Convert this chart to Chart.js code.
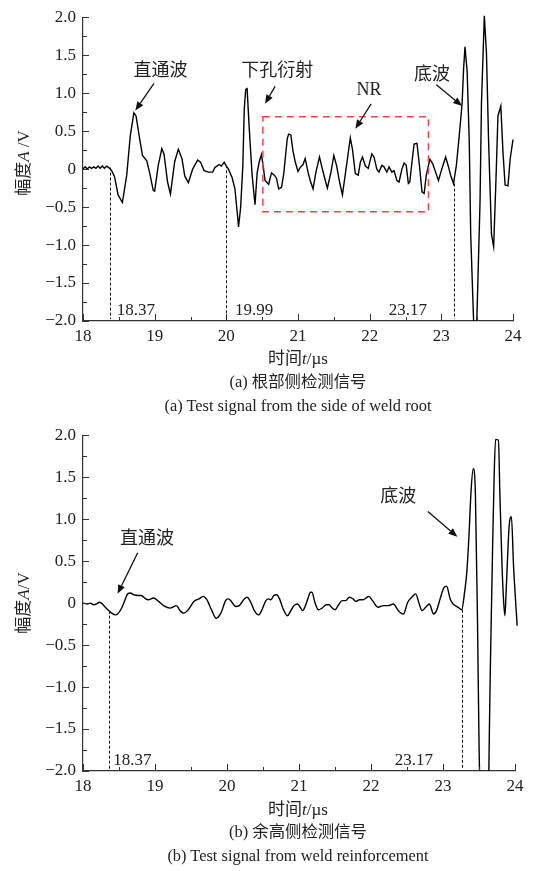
<!DOCTYPE html>
<html><head><meta charset="utf-8">
<script src="https://cdn.jsdelivr.net/npm/chart.js@4.4.1/dist/chart.umd.min.js"></script>
<style>
body{margin:0;background:#fff;width:534px;height:871px;position:relative;overflow:hidden;font-family:"Liberation Serif","Noto Sans CJK SC",serif;color:#222;}
canvas{position:absolute;left:0;}
.t{position:absolute;white-space:nowrap;transform:translate(-50%,-50%);font-size:17px;line-height:1;}
.c{font-size:16.4px;}
.yt{position:absolute;white-space:nowrap;transform:translate(-50%,-50%) rotate(-90deg);font-size:17px;line-height:1;}
.cjk{font-family:"Noto Sans CJK SC",sans-serif;}
</style></head><body>
<canvas id="ca" width="534" height="345" style="top:0"></canvas>
<canvas id="cb" width="534" height="377" style="top:418px"></canvas>
<div class="yt" style="left:22px;top:163px"><span class="cjk">幅度</span><i>A</i> /V</div>
<div class="t" style="left:298px;top:357px"><span class="cjk">时间</span><i>t</i>/µs</div>
<div class="t c" style="left:298px;top:381px">(a) <span class="cjk">根部侧检测信号</span></div>
<div class="t c" style="left:298px;top:406px">(a) Test signal from the side of weld root</div>
<div class="yt" style="left:22px;top:603px"><span class="cjk">幅度</span><i>A</i>/V</div>
<div class="t" style="left:298px;top:808px"><span class="cjk">时间</span><i>t</i>/µs</div>
<div class="t c" style="left:298px;top:831px">(b) <span class="cjk">余高侧检测信号</span></div>
<div class="t c" style="left:298px;top:856px">(b) Test signal from weld reinforcement</div>
<script>
// ---------- data ----------
const timeA = [18.00,18.03,18.06,18.09,18.12,18.15,18.18,18.21,18.24,18.27,18.30,18.33,18.36,
 18.40,18.44,18.49,18.55,18.61,18.66,18.71,18.74,18.79,18.83,18.89,18.93,18.98,19.00,19.05,19.10,19.13,
 19.18,19.22,19.28,19.33,19.38,19.42,19.47,19.53,19.60,19.64,19.69,19.75,19.81,19.84,19.90,19.93,19.97,
 20.00,20.03,20.08,20.12,20.16,20.17,20.20,20.23,20.25,20.27,20.29,20.32,20.36,20.40,20.43,20.46,20.49,
 20.52,20.54,20.59,20.63,20.67,20.70,20.73,20.77,20.80,20.85,20.87,20.90,20.93,20.96,21.00,21.03,21.07,
 21.10,21.14,21.17,21.21,21.25,21.30,21.33,21.37,21.41,21.46,21.50,21.54,21.58,21.62,21.67,21.73,21.76,
 21.80,21.84,21.87,21.90,21.94,21.98,22.03,22.06,22.10,22.13,22.17,22.20,22.24,22.27,22.31,22.34,22.38,
 22.41,22.45,22.48,22.51,22.54,22.56,22.59,22.62,22.66,22.70,22.73,22.76,22.79,22.84,22.88,22.92,22.96,
 23.00,23.03,23.06,23.10,23.13,23.17,23.21,23.25,23.29,23.31,23.33,23.36,23.39,23.41,23.475,23.54,23.56,
 23.60,23.63,23.66,23.70,23.73,23.76,23.79,23.83,23.86,23.89,23.93,23.96,24.00,24.03];
const ampA = [0.00,0.03,0.00,0.03,0.01,0.03,0.01,0.04,0.01,0.04,0.01,0.04,0.02,
 -0.02,-0.10,-0.34,-0.44,-0.08,0.44,0.74,0.70,0.40,0.18,0.11,-0.05,-0.28,-0.29,0.05,0.27,0.20,
 -0.17,-0.33,0.10,0.26,0.14,-0.09,-0.18,0.00,0.12,0.09,-0.02,-0.04,-0.04,0.02,0.06,0.04,0.09,
 0.04,0.00,-0.11,-0.26,-0.65,-0.76,-0.50,0.04,0.79,1.05,1.06,0.53,-0.08,-0.47,-0.05,0.10,0.19,
 0.00,-0.15,-0.20,-0.05,-0.08,-0.12,-0.26,-0.24,-0.07,0.40,0.46,0.45,0.24,0.10,-0.03,0.02,0.06,
 0.14,-0.04,-0.15,-0.26,-0.04,0.16,0.04,-0.11,-0.25,-0.04,0.18,0.04,-0.17,-0.34,0.00,0.41,0.26,
 -0.06,-0.08,0.09,0.16,0.04,0.01,0.20,0.16,0.00,-0.04,0.05,0.03,-0.04,0.03,-0.04,-0.02,-0.15,
 -0.17,0.00,0.08,0.05,-0.19,-0.17,0.09,0.33,0.34,0.00,-0.30,-0.32,-0.08,0.13,0.07,-0.04,-0.15,
 -0.02,0.07,0.16,0.03,-0.08,-0.19,0.05,0.44,0.87,1.31,1.61,1.29,0.35,-0.86,-2.70,-0.43,0.87,
 2.02,1.52,0.35,-0.86,-1.02,-0.21,0.70,0.83,0.22,-0.21,-0.22,0.13,0.39,0.07];

const timeB = [18.00,18.06,18.10,18.15,18.19,18.23,18.27,18.31,18.36,18.40,18.45,18.48,18.53,18.58,18.62,
 18.66,18.70,18.77,18.81,18.87,18.91,18.98,19.05,19.12,19.21,19.30,19.34,19.40,19.47,19.54,19.61,19.67,
 19.72,19.79,19.85,19.92,19.98,20.02,20.05,20.12,20.17,20.24,20.28,20.33,20.38,20.44,20.49,20.54,20.58,
 20.61,20.65,20.69,20.73,20.78,20.84,20.88,20.93,20.98,21.01,21.05,21.09,21.13,21.16,21.18,21.22,21.27,
 21.32,21.38,21.42,21.45,21.50,21.55,21.60,21.65,21.70,21.75,21.79,21.84,21.89,21.93,21.97,22.02,22.10,
 22.17,22.24,22.31,22.38,22.45,22.51,22.59,22.62,22.67,22.71,22.76,22.81,22.87,22.91,22.96,23.01,23.05,
 23.10,23.14,23.21,23.26,23.30,23.33,23.36,23.39,23.42,23.45,23.48,23.50,23.58,23.66,23.69,23.71,23.73,
 23.77,23.79,23.82,23.84,23.86,23.88,23.92,23.95,23.98,24.03];
const ampB = [0.00,-0.01,0.00,-0.02,-0.01,0.01,-0.01,-0.05,-0.09,-0.12,-0.14,-0.13,-0.07,0.03,0.11,
 0.12,0.10,0.09,0.09,0.05,0.04,0.06,0.02,-0.03,-0.06,-0.03,-0.08,-0.12,-0.07,0.02,0.05,0.08,
 0.04,-0.09,-0.18,-0.11,0.03,0.05,0.03,-0.04,-0.03,0.05,0.07,0.01,-0.09,-0.14,-0.07,0.03,0.05,
 0.04,0.09,0.10,0.05,-0.07,-0.15,-0.10,-0.03,-0.01,-0.04,-0.09,-0.03,0.07,0.13,0.13,0.01,-0.08,
 -0.06,-0.02,-0.02,-0.05,-0.08,-0.02,0.03,0.03,0.07,0.05,0.02,0.04,0.04,0.06,0.08,0.03,-0.05,
 -0.03,-0.03,-0.01,-0.09,-0.13,0.01,0.09,0.11,-0.01,-0.09,-0.05,-0.01,-0.13,-0.09,0.05,0.18,0.20,
 0.05,-0.01,-0.05,-0.08,0.13,0.36,0.79,1.34,1.60,1.30,-0.27,-1.64,-4.50,-0.66,0.71,1.50,1.95,
 1.94,1.30,0.44,0.05,-0.15,0.20,0.93,1.03,0.44,-0.27];

const xTickValues = [18,19,20,21,22,23,24];
const xTickLabels = ['18','19','20','21','22','23','24'];
const xMinorValues = [18.5,19.5,20.5,21.5,22.5,23.5];
const yTickValues = [-2,-1.5,-1,-0.5,0,0.5,1,1.5,2];
const yTickLabels = ['\u22122.0','\u22121.5','\u22121.0','\u22120.5','0','0.5','1.0','1.5','2.0'];
const yMinorValues = [-1.75,-1.25,-0.75,-0.25,0.25,0.75,1.25,1.75];

const notesA = ['直通波','下孔衍射','NR','底波'];
const marksA = ['18.37','19.99','23.17'];
const notesB = ['直通波','底波'];
const marksB = ['18.37','23.17'];

// ---------- drawing ----------
const SERIF = '"Liberation Serif", "Times New Roman", serif';
const CJK = '"Noto Sans CJK SC", sans-serif';

function arrow(ctx, x1, y1, x2, y2) {
  const ang = Math.atan2(y2 - y1, x2 - x1);
  const L = 9, W = 3.6;
  const bx = x2 - L * Math.cos(ang), by = y2 - L * Math.sin(ang);
  ctx.beginPath(); ctx.moveTo(x1, y1); ctx.lineTo(bx, by); ctx.stroke();
  ctx.beginPath();
  ctx.moveTo(x2, y2);
  ctx.lineTo(bx + W * Math.sin(ang), by - W * Math.cos(ang));
  ctx.lineTo(bx - W * Math.sin(ang), by + W * Math.cos(ang));
  ctx.closePath(); ctx.fill();
}

const deco = {
  id: 'deco',
  afterDraw(chart, args, o) {
    const {ctx, chartArea: ca} = chart;
    const X = chart.scales.x, Y = chart.scales.y;
    ctx.save();
    ctx.strokeStyle = '#333'; ctx.fillStyle = '#222'; ctx.lineWidth = 1;
    const tick = (v, len, axis) => {
      ctx.beginPath();
      if (axis === 'x') { const p = Math.round(X.getPixelForValue(v)) + 0.5; ctx.moveTo(p, ca.bottom); ctx.lineTo(p, ca.bottom - len); }
      else { const p = Math.round(Y.getPixelForValue(v)) + 0.5; ctx.moveTo(ca.left, p); ctx.lineTo(ca.left + len, p); }
      ctx.stroke();
    };
    xTickValues.forEach(v => tick(v, 7, 'x'));
    xMinorValues.forEach(v => tick(v, 4, 'x'));
    yTickValues.forEach(v => tick(v, 6, 'y'));
    yMinorValues.forEach(v => tick(v, 4, 'y'));
    ctx.setLineDash([3, 2]); ctx.strokeStyle = '#111'; ctx.lineWidth = 1;
    o.vlines.forEach(l => {
      const px = Math.round(X.getPixelForValue(l.t)) + 0.5;
      ctx.beginPath(); ctx.moveTo(px, Y.getPixelForValue(l.from)); ctx.lineTo(px, Y.getPixelForValue(-2) - 2); ctx.stroke();
    });
    if (o.rect) {
      ctx.setLineDash([7, 5]); ctx.strokeStyle = '#ee4444'; ctx.lineWidth = 1.5;
      const x1 = X.getPixelForValue(o.rect.t1), x2 = X.getPixelForValue(o.rect.t2);
      const y1 = Y.getPixelForValue(o.rect.v1), y2 = Y.getPixelForValue(o.rect.v2);
      ctx.strokeRect(x1, y1, x2 - x1, y2 - y1);
    }
    ctx.setLineDash([]);
    ctx.strokeStyle = '#111'; ctx.fillStyle = '#111'; ctx.lineWidth = 1.3;
    o.arrows.forEach(a => arrow(ctx, X.getPixelForValue(a[0]), Y.getPixelForValue(a[1]), X.getPixelForValue(a[2]), Y.getPixelForValue(a[3])));
    ctx.fillStyle = '#222'; ctx.textBaseline = 'middle';
    o.texts.forEach(tx => {
      ctx.font = (tx.cjk ? '18px ' + CJK : (tx.size || 17) + 'px ' + SERIF);
      ctx.textAlign = tx.align || 'center';
      ctx.fillText(tx.s, X.getPixelForValue(tx.t), Y.getPixelForValue(tx.v));
    });
    ctx.restore();
  }
};

function makeChart(id, times, amps, padRight, smooth, deco) {
  return new Chart(document.getElementById(id), {
    type: 'line',
    data: { datasets: [{
      data: times.map((t, i) => ({x: t, y: amps[i]})),
      borderColor: '#000', borderWidth: 1.4, pointRadius: 0,
      tension: smooth ? 0.4 : 0, cubicInterpolationMode: smooth ? 'monotone' : 'default',
      clip: {left: 0, top: 4, right: 5, bottom: 0}
    }]},
    options: {
      responsive: false, animation: false, events: [], devicePixelRatio: 1,
      layout: { padding: {left: 0, top: 13, right: padRight, bottom: 0} },
      plugins: { legend: {display: false}, tooltip: {enabled: false}, deco: deco },
      scales: {
        x: {
          type: 'linear', min: 18, max: 24,
          afterBuildTicks: s => { s.ticks = xTickValues.map(v => ({value: v})); },
          afterFit: s => { s.height = 24; },
          grid: {display: true, drawOnChartArea: false, drawTicks: false},
          border: {display: true, color: '#333', width: 1.2},
          ticks: {callback: (v, i) => xTickLabels[i], color: '#222', padding: 5, maxRotation: 0, autoSkip: false,
                  font: {family: SERIF, size: 17}}
        },
        y: {
          type: 'linear', min: -2, max: 2,
          afterBuildTicks: s => { s.ticks = yTickValues.map(v => ({value: v})); },
          afterFit: s => { s.width = 83; },
          grid: {display: true, drawOnChartArea: false, drawTicks: false},
          border: {display: true, color: '#333', width: 1.2},
          ticks: {callback: (v, i) => yTickLabels[i], color: '#222', padding: 7, autoSkip: false,
                  font: {family: SERIF, size: 17}}
        }
      }
    },
    plugins: [deco.plugin]
  });
}

makeChart('ca', timeA, ampA, 21, false, {
  plugin: deco,
  vlines: [{t: 18.37, from: 0.02}, {t: 19.99, from: 0.05}, {t: 23.17, from: -0.19}],
  rect: {t1: 20.51, t2: 22.82, v1: 0.69, v2: -0.56},
  arrows: [[18.99, 1.13, 18.73, 0.77], [20.68, 1.09, 20.54, 0.86], [22.02, 0.86, 21.80, 0.53], [22.93, 1.11, 23.29, 0.83]],
  texts: [
    {s: notesA[0], t: 19.08, v: 1.32, cjk: true},
    {s: notesA[1], t: 20.71, v: 1.32, cjk: true},
    {s: notesA[2], t: 21.99, v: 1.04, size: 18},
    {s: notesA[3], t: 22.87, v: 1.26, cjk: true},
    {s: marksA[0], t: 18.47, v: -1.86, align: 'left'},
    {s: marksA[1], t: 20.12, v: -1.86, align: 'left'},
    {s: marksA[2], t: 22.80, v: -1.86, align: 'right'}
  ]
});

makeChart('cb', timeB, ampB, 19, true, {
  plugin: deco,
  vlines: [{t: 18.36, from: -0.09}, {t: 23.26, from: -0.08}],
  rect: null,
  arrows: [[18.76, 0.60, 18.48, 0.11], [22.79, 1.09, 23.20, 0.79]],
  texts: [
    {s: notesB[0], t: 18.89, v: 0.79, cjk: true},
    {s: notesB[1], t: 22.38, v: 1.29, cjk: true},
    {s: marksB[0], t: 18.42, v: -1.88, align: 'left'},
    {s: marksB[1], t: 22.86, v: -1.88, align: 'right'}
  ]
});
</script>
</body></html>
